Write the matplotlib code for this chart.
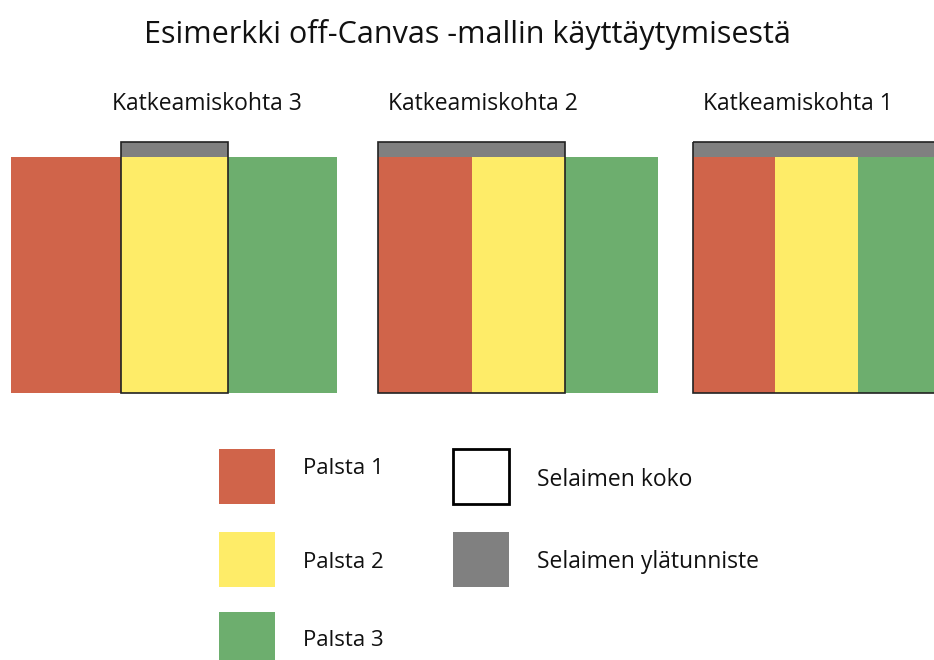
import matplotlib.pyplot as plt
from matplotlib.patches import Rectangle

# Data
title = "Esimerkki off-Canvas -mallin käyttäytymisestä"
breakpoints = ["Katkeamiskohta 3", "Katkeamiskohta 2", "Katkeamiskohta 1"]
# column widths (px) in each breakpoint view: Palsta 1, 2, 3
column_widths = [[110, 107, 109], [94, 93, 93], [82, 83, 83]]
# which columns are inside the browser viewport
viewport_cols = [[1], [0, 1], [0, 1, 2]]
column_names = ["Palsta 1", "Palsta 2", "Palsta 3"]
column_colors = ["#D0644A", "#FEEC68", "#6DAE6E"]
header_color = "#808080"
browser_labels = ["Selaimen koko", "Selaimen ylätunniste"]

# Layout
panel_x = [11, 378, 693]
label_x = [207, 483, 798]
panel_top = 157
panel_bottom = 393
header_h = 15
label_y = 104
FONT = "Open Sans"


def main():
    fig = plt.figure(figsize=(9.34, 6.6), dpi=100)
    ax = fig.add_axes([0, 0, 1, 1])
    ax.set_xlim(0, 934)
    ax.set_ylim(660, 0)
    ax.axis("off")

    ax.text(467, 35, title, ha="center", va="center", fontsize=22, family=FONT, color="#111111")

    for i, name in enumerate(breakpoints):
        x0 = panel_x[i]
        widths = column_widths[i]
        lefts = [x0 + sum(widths[:k]) for k in range(3)]
        for k in range(3):
            ax.add_patch(Rectangle((lefts[k], panel_top), widths[k], panel_bottom - panel_top,
                                   facecolor=column_colors[k], edgecolor="none"))
        vis = viewport_cols[i]
        vx = lefts[vis[0]]
        vw = sum(widths[k] for k in vis)
        # browser header
        ax.add_patch(Rectangle((vx, panel_top - header_h), vw, header_h,
                               facecolor=header_color, edgecolor="none"))
        # browser outline
        ax.add_patch(Rectangle((vx, panel_top - header_h), vw, panel_bottom - panel_top + header_h,
                               facecolor="none", edgecolor="#222222", linewidth=1.2))
        ax.text(label_x[i], label_y, name, ha="center", va="center", fontsize=16.5,
                family=FONT, color="#111111")

    # Legend
    leg_y = [449, 532, 612]
    text_y = [469, 562, 640]
    for k in range(3):
        ax.add_patch(Rectangle((219, leg_y[k]), 56, 55, facecolor=column_colors[k], edgecolor="none"))
        ax.text(303, text_y[k], column_names[k], ha="left", va="center",
                fontsize=16, family=FONT, color="#111111")
    ax.add_patch(Rectangle((453, 449), 56, 55, facecolor="white", edgecolor="black", linewidth=2))
    ax.text(537, 480, browser_labels[0], ha="left", va="center", fontsize=16.5,
            family=FONT, color="#111111")
    ax.add_patch(Rectangle((453, 532), 56, 55, facecolor=header_color, edgecolor="none"))
    ax.text(537, 562, browser_labels[1], ha="left", va="center", fontsize=16.5,
            family=FONT, color="#111111")

    fig.savefig("out.png", dpi=100)
    plt.close(fig)


if __name__ == "__main__":
    main()
